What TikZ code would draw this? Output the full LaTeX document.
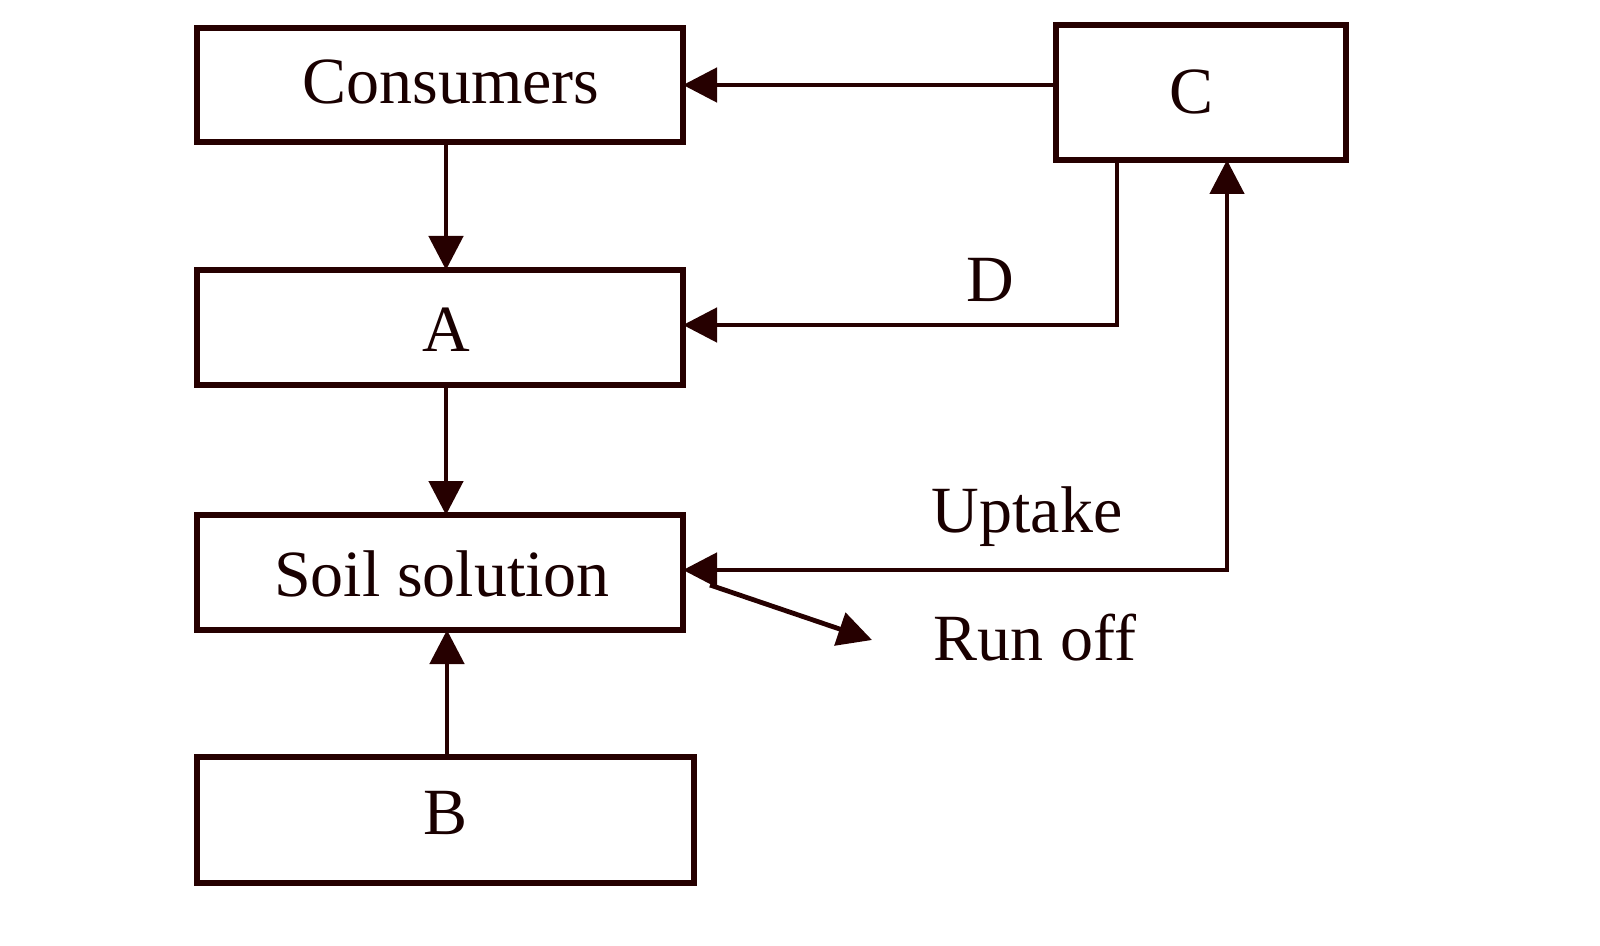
\documentclass[tikz,border=0pt]{standalone}
\usepackage{fontspec}
\setmainfont{Liberation Serif}
\usetikzlibrary{arrows.meta}
\begin{document}
\begin{tikzpicture}[x=0.5pt,y=-0.5pt,
 box/.style={draw=black!85!red,line width=2.6pt},
 lbl/.style={font=\fontsize{33}{40}\selectfont,text=black!90!red},
 arr/.style={draw=black!85!red,line width=2.4pt,-{Triangle[length=17pt,width=17pt]}}]
\useasboundingbox (0,0) rectangle (1600,946);
\draw[box] (197,28) rectangle (683,142);
\draw[box] (1056,25) rectangle (1346,160);
\draw[box] (197,270) rectangle (683,385);
\draw[box] (197,515) rectangle (683,630);
\draw[box] (197,757) rectangle (694,883);
\node[lbl] (cons) at (451,82) {Consumers};
\node[lbl] (c) at (1191,92) {C};
\node[lbl] (a) at (446,330) {A};
\node[lbl] (soil) at (442,574) {Soil solution};
\node[lbl] (b) at (446,813) {B};
\node[lbl] (d) at (990,280) {D};
\node[lbl] (up) at (1027,517) {Uptake};
\node[lbl] (ro) at (1035,638) {Run off};
\coordinate (cL) at (1056,85); \coordinate (consR) at (683,85);
\coordinate (consB) at (446,142); \coordinate (aT) at (446,270);
\coordinate (aB) at (446,385); \coordinate (sT) at (446,515);
\coordinate (bT) at (447,757); \coordinate (sB) at (447,630);
\coordinate (cB) at (1117,160); \coordinate (aR) at (683,325);
\coordinate (cB2) at (1227,160); \coordinate (sR) at (683,570);
\coordinate (r0) at (710,585); \coordinate (r1) at (872,640);
\draw[arr] (cL) -- (consR);
\draw[arr] (consB) -- (aT);
\draw[arr] (aB) -- (sT);
\draw[arr] (bT) -- (sB);
\draw[arr] (cB) -- (1117,325) -- (aR);
\draw[arr,{Triangle[length=17pt,width=17pt]}-{Triangle[length=17pt,width=17pt]}] (sR) -- (1227,570) -- (cB2);
\draw[arr] (r0) -- (r1);
\end{tikzpicture}
\end{document}
